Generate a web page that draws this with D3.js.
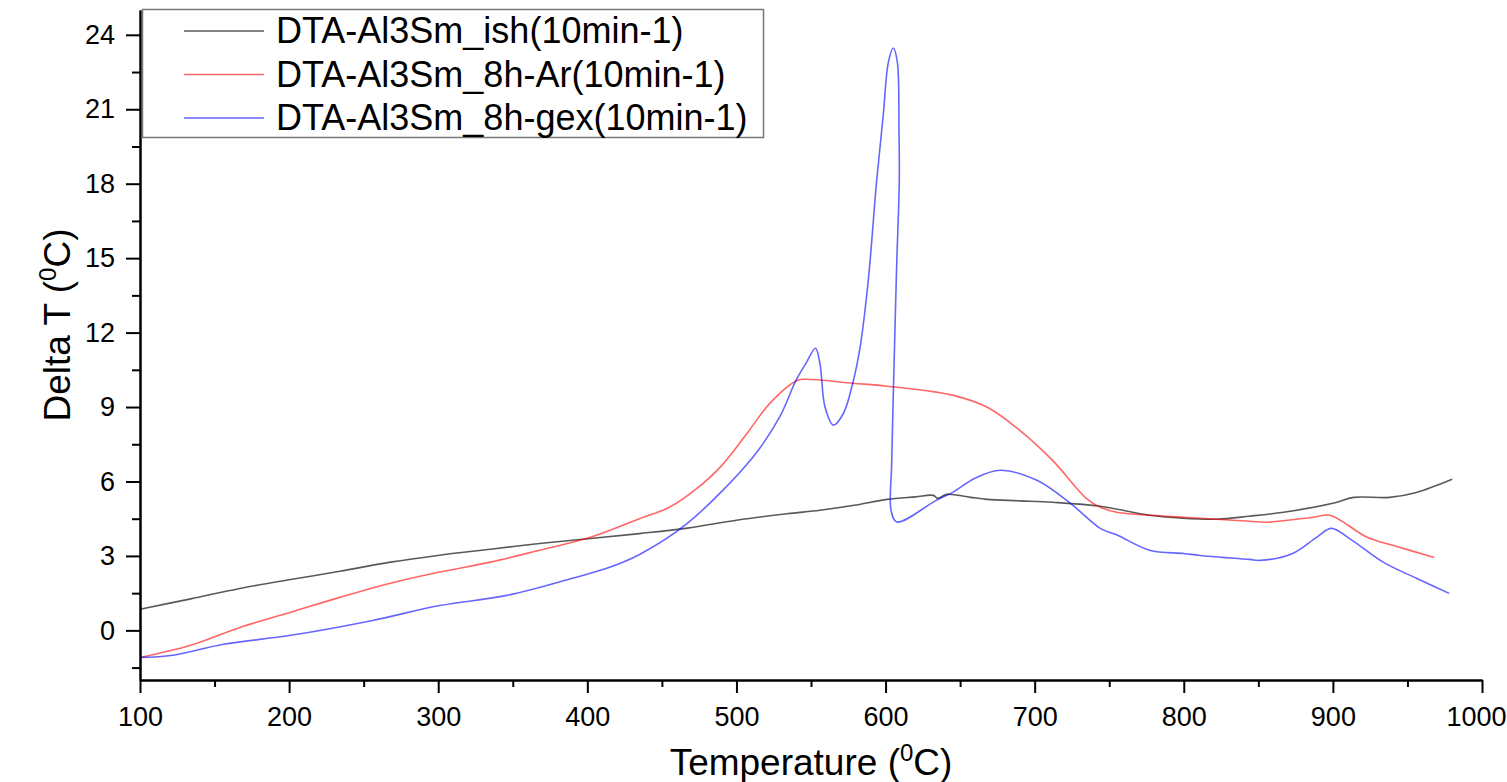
<!DOCTYPE html>
<html>
<head>
<meta charset="utf-8">
<script src="https://cdn.jsdelivr.net/npm/d3@7"></script>
<style>
	body { margin: 0; background: #fff; }
	svg { display: block; font-family: 'Liberation Sans', Arial, sans-serif; }
</style>
</head>
<body>
<div id="canvas"></div>
<script>
// series names as in the legend
const seriesNames = [
	'DTA-Al3Sm_ish(10min-1)',
	'DTA-Al3Sm_8h-Ar(10min-1)',
	'DTA-Al3Sm_8h-gex(10min-1)',
];

// temperature (°C) / delta T (°C)
const ishTemp = [100, 134, 167, 201, 234, 268, 301, 335, 368, 402, 435, 467, 500, 534, 556, 580, 601, 620, 632, 635, 641, 657, 668, 690, 712, 744, 777, 799, 822, 844, 867, 900, 914, 938, 956, 980];
const ishDelta = [0.85, 1.27, 1.69, 2.05, 2.38, 2.75, 3.03, 3.27, 3.5, 3.7, 3.9, 4.12, 4.44, 4.7, 4.84, 5.05, 5.28, 5.38, 5.44, 5.32, 5.48, 5.36, 5.28, 5.22, 5.16, 5.0, 4.64, 4.52, 4.48, 4.6, 4.76, 5.12, 5.36, 5.36, 5.56, 6.09];

const arTemp = [100, 134, 167, 201, 234, 268, 301, 335, 368, 402, 435, 455, 472, 489, 506, 523, 541, 547, 578, 601, 634, 645, 668, 690, 712, 735, 744, 755, 789, 800, 844, 856, 887, 898, 923, 940, 968];
const arDelta = [-1.09, -0.6, 0.12, 0.73, 1.33, 1.9, 2.35, 2.75, 3.23, 3.75, 4.5, 4.96, 5.65, 6.57, 7.85, 9.19, 10.08, 10.12, 9.96, 9.84, 9.6, 9.48, 9.0, 8.06, 6.85, 5.3, 4.96, 4.76, 4.6, 4.56, 4.4, 4.36, 4.56, 4.64, 3.75, 3.43, 2.94];

// the gex trace folds back on itself after the big peak, so keep it in measured order
const gexTemp = [100, 122, 156, 201, 256, 301, 346, 390, 413, 435, 467, 511, 529, 540, 547, 553, 556, 559.4, 565, 571.7, 578, 582.9, 588.4, 594, 598.5, 601.9, 605.2, 607.9, 609, 609.2, 607.5, 606.3, 604.1, 603.7, 607.5, 634, 645, 660, 677, 701.5, 724, 744, 755, 777, 800, 811, 844, 851, 873, 889, 899, 911, 934, 956, 978];
const gexDelta = [-1.09, -1.0, -0.56, -0.2, 0.4, 1.0, 1.41, 2.1, 2.5, 3.06, 4.31, 6.98, 8.6, 10.08, 10.8, 11.37, 10.75, 9.0, 8.27, 8.74, 9.96, 11.4, 14.1, 18.1, 20.8, 22.9, 23.47, 22.9, 20.2, 18.1, 14.8, 12.1, 6.73, 4.84, 4.37, 5.24, 5.56, 6.13, 6.45, 6.05, 5.12, 4.11, 3.85, 3.23, 3.1, 3.02, 2.86, 2.82, 3.1, 3.75, 4.11, 3.71, 2.74, 2.1, 1.49];

const xMajorTicks = [100, 200, 300, 400, 500, 600, 700, 800, 900, 1000];
const xMinorTicks = [150, 250, 350, 450, 550, 650, 750, 850, 950];
const yMajorTicks = [0, 3, 6, 9, 12, 15, 18, 21, 24];
const yMinorTicks = [-1.5, 1.5, 4.5, 7.5, 10.5, 13.5, 16.5, 19.5, 22.5];

const colors = ['rgba(0,0,0,0.65)', 'rgba(255,0,0,0.6)', 'rgba(0,0,255,0.6)'];

const width = 1507;
const height = 782;
const margins = { top: 10, right: 25, bottom: 102, left: 140 };

const svg = d3.select('#canvas').append('svg').attr('width', width).attr('height', height);

const xScale = d3.scaleLinear().domain([100, 1000]).range([margins.left, width - margins.right]);
const yScale = d3.scaleLinear().domain([-2, 25]).range([height - margins.bottom, margins.top]);

const series = [
	{ name: seriesNames[0], temp: ishTemp, delta: ishDelta },
	{ name: seriesNames[1], temp: arTemp, delta: arDelta },
	{ name: seriesNames[2], temp: gexTemp, delta: gexDelta },
].map(s => ({ name: s.name, points: s.temp.map((t, i) => [t, s.delta[i]]) }));

const line = d3
	.line()
	.x(d => xScale(d[0]))
	.y(d => yScale(d[1]))
	.curve(d3.curveCatmullRom.alpha(0.5));

svg.append('g')
	.attr('id', 'lines')
	.selectAll('path')
	.data(series)
	.join('path')
	.attr('d', d => line(d.points))
	.attr('fill', 'none')
	.attr('stroke', (d, i) => colors[i])
	.attr('stroke-width', 1.6)
	.attr('stroke-linejoin', 'round');

// axes: major ticks with labels, minor ticks without
const xAxis = svg.append('g').attr('transform', `translate(0, ${height - margins.bottom})`);
xAxis.call(d3.axisBottom(xScale).tickValues(xMajorTicks).tickFormat(d3.format('d')).tickSize(13).tickPadding(14).tickSizeOuter(0));
xAxis.append('g').call(d3.axisBottom(xScale).tickValues(xMinorTicks).tickSize(7).tickFormat('').tickSizeOuter(0));
// the last label runs into the page edge in the original; keep it whole
xAxis.selectAll('.tick text').filter(d => d === 1000).attr('text-anchor', 'end').attr('x', width - xScale(1000) - 1);

const yAxis = svg.append('g').attr('transform', `translate(${margins.left}, 0)`);
yAxis.call(d3.axisLeft(yScale).tickValues(yMajorTicks).tickSize(14).tickPadding(11).tickSizeOuter(0));
yAxis.append('g').call(d3.axisLeft(yScale).tickValues(yMinorTicks).tickSize(8).tickFormat('').tickSizeOuter(0));

svg.selectAll('.domain, .tick line').attr('stroke', '#000').attr('stroke-width', 2);
svg.selectAll('.tick text')
	.attr('fill', '#000')
	.style('font-size', '27px')
	.style('font-family', "'Liberation Sans', Arial, sans-serif");

// axis titles
const xTitle = svg.append('text')
	.attr('x', (xScale.range()[0] + xScale.range()[1]) / 2)
	.attr('y', 775)
	.attr('text-anchor', 'middle')
	.style('font-size', '37px');
xTitle.append('tspan').text('Temperature (');
xTitle.append('tspan').attr('dy', -14).style('font-size', '24px').text('0');
xTitle.append('tspan').attr('dy', 14).text('C)');

const yTitle = svg.append('text')
	.attr('transform', 'translate(70, 325) rotate(-90)')
	.attr('text-anchor', 'middle')
	.style('font-size', '37px');
yTitle.append('tspan').text('Delta T (');
yTitle.append('tspan').attr('dy', -14).style('font-size', '24px').text('0');
yTitle.append('tspan').attr('dy', 14).text('C)');

// legend
const legend = svg.append('g').attr('id', 'legend');
legend.append('rect')
	.attr('x', 142.5)
	.attr('y', 9.5)
	.attr('width', 621)
	.attr('height', 128)
	.attr('fill', '#fff')
	.attr('stroke', '#777')
	.attr('stroke-width', 1.5);

const items = legend.selectAll('.item').data(series).join('g')
	.attr('class', 'item')
	.attr('transform', (d, i) => `translate(0, ${31 + i * 43.5})`);
items.append('line')
	.attr('x1', 184).attr('x2', 264)
	.attr('stroke', (d, i) => colors[i])
	.attr('stroke-width', 1.6);
items.append('text')
	.attr('x', 276)
	.attr('y', 12)
	.style('font-size', '36px')
	.text(d => d.name);
</script>
</body>
</html>
